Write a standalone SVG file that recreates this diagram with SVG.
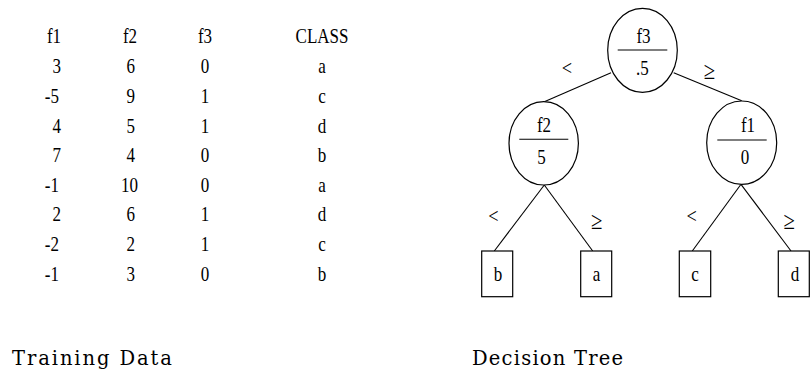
<svg xmlns="http://www.w3.org/2000/svg" width="810" height="377" viewBox="0 0 810 377" font-family="'Liberation Serif', 'Times New Roman', Times, serif">
<style>
text{font-family:"Liberation Serif","Times New Roman",Times,serif;fill:#000}
.t{font-size:20.5px}
.m{text-anchor:middle}
.cap{font-family:"DejaVu Serif","Liberation Serif",serif;font-size:19.5px}
.shape{fill:#fff;stroke:#000;stroke-width:1.2}
.edge{stroke:#000;stroke-width:1.1;fill:none}
.lbl{font-size:22px;text-anchor:middle}
.ge{font-size:25px;text-anchor:middle}
</style>
<rect width="810" height="377" fill="#fff"/>
<g id="table" class="t" transform="scale(0.83 1)">
<text class="t m" x="65.1" y="43">f1</text>
<text class="t m" x="156.6" y="43">f2</text>
<text class="t m" x="247" y="43">f3</text>
<text class="t m" x="388" y="43">CLASS</text>
<g id="rows">
<text class="t m" x="68.3" y="73.3">3</text><text class="t m" x="157.5" y="73.3">6</text><text class="t m" x="247" y="73.3">0</text><text class="t m" x="388" y="73.3">a</text>
<text class="t" x="54" y="102.9">-5</text><text class="t m" x="157.5" y="102.9">9</text><text class="t m" x="247" y="102.9">1</text><text class="t m" x="388" y="102.9">c</text>
<text class="t m" x="68.3" y="132.6">4</text><text class="t m" x="157.5" y="132.6">5</text><text class="t m" x="247" y="132.6">1</text><text class="t m" x="388" y="132.6">d</text>
<text class="t m" x="68.3" y="162.2">7</text><text class="t m" x="157.5" y="162.2">4</text><text class="t m" x="247" y="162.2">0</text><text class="t m" x="388" y="162.2">b</text>
<text class="t" x="54" y="191.8">-1</text><text class="t m" x="156" y="191.8">10</text><text class="t m" x="247" y="191.8">0</text><text class="t m" x="388" y="191.8">a</text>
<text class="t m" x="68.3" y="221.5">2</text><text class="t m" x="157.5" y="221.5">6</text><text class="t m" x="247" y="221.5">1</text><text class="t m" x="388" y="221.5">d</text>
<text class="t" x="54" y="251.1">-2</text><text class="t m" x="157.5" y="251.1">2</text><text class="t m" x="247" y="251.1">1</text><text class="t m" x="388" y="251.1">c</text>
<text class="t" x="54" y="280.7">-1</text><text class="t m" x="157.5" y="280.7">3</text><text class="t m" x="247" y="280.7">0</text><text class="t m" x="388" y="280.7">b</text>
</g>
</g>
<g id="connectors">
<line class="edge" x1="611" y1="72.7" x2="544.3" y2="101.7"/>
<line class="edge" x1="673.7" y1="72.7" x2="741.7" y2="100.7"/>
<line class="edge" x1="544.3" y1="185" x2="494.3" y2="251"/>
<line class="edge" x1="544.3" y1="185" x2="592.7" y2="251"/>
<line class="edge" x1="741" y1="184.3" x2="692.3" y2="251"/>
<line class="edge" x1="741" y1="184.3" x2="791" y2="251"/>
<text class="lbl" transform="matrix(0.83 0 0 1 567 0)" x="0" y="75">&lt;</text>
<text class="ge" transform="matrix(0.83 0 0 1 709.5 0)" x="0" y="79.5">≥</text>
<text class="lbl" transform="matrix(0.83 0 0 1 493.3 0)" x="0" y="223.5">&lt;</text>
<text class="ge" transform="matrix(0.83 0 0 1 596.7 0)" x="0" y="229">≥</text>
<text class="lbl" transform="matrix(0.83 0 0 1 691.7 0)" x="0" y="223.5">&lt;</text>
<text class="ge" transform="matrix(0.83 0 0 1 789.3 0)" x="0" y="229">≥</text>
</g>
<g id="node-f3">
<ellipse class="shape" cx="642.5" cy="50.3" rx="34.8" ry="42"/>
<line class="edge" x1="617.7" y1="50" x2="667.3" y2="50"/>
<text class="t m" transform="matrix(0.83 0 0 1 643.5 0)" x="0" y="43.3">f3</text>
<text class="t m" transform="matrix(0.83 0 0 1 642.5 0)" x="0" y="75">.5</text>
</g>
<g id="node-f2">
<ellipse class="shape" cx="543.7" cy="143.3" rx="34.7" ry="41.7"/>
<line class="edge" x1="519.3" y1="139.3" x2="568.3" y2="139.3"/>
<text class="t m" transform="matrix(0.83 0 0 1 544 0)" x="0" y="132.5">f2</text>
<text class="t m" transform="matrix(0.83 0 0 1 541.5 0)" x="0" y="164.5">5</text>
</g>
<g id="node-f1">
<ellipse class="shape" cx="741.7" cy="142.7" rx="35" ry="41.7"/>
<line class="edge" x1="717.3" y1="140" x2="766.7" y2="140"/>
<text class="t m" transform="matrix(0.83 0 0 1 748 0)" x="0" y="132.5">f1</text>
<text class="t m" transform="matrix(0.83 0 0 1 745 0)" x="0" y="164.5">0</text>
</g>
<g id="leaf-b"><rect class="shape" x="481.7" y="251" width="31" height="45.7"/><text class="t m" transform="matrix(0.83 0 0 1 498 0)" x="0" y="281">b</text></g>
<g id="leaf-a"><rect class="shape" x="580.7" y="251" width="31" height="45.7"/><text class="t m" transform="matrix(0.83 0 0 1 596.5 0)" x="0" y="281">a</text></g>
<g id="leaf-c"><rect class="shape" x="679.3" y="251" width="31.4" height="45.7"/><text class="t m" transform="matrix(0.83 0 0 1 695 0)" x="0" y="281">c</text></g>
<g id="leaf-d"><rect class="shape" x="778.3" y="251" width="31" height="45.7"/><text class="t m" transform="matrix(0.83 0 0 1 795 0)" x="0" y="281">d</text></g>
<g id="captions">
<text class="cap" x="12" y="365" textLength="160" lengthAdjust="spacing">Training Data</text>
<text class="cap" x="472" y="365" textLength="151" lengthAdjust="spacing">Decision Tree</text>
</g>
</svg>
